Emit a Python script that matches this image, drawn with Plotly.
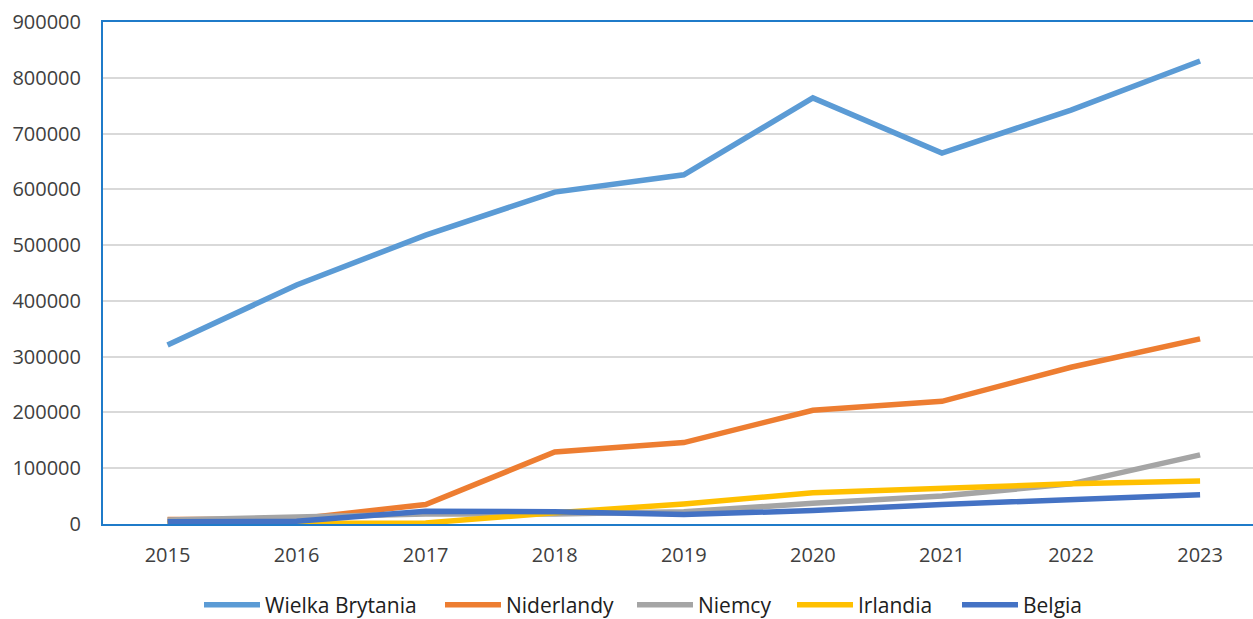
import plotly.graph_objects as go

years = ["2015", "2016", "2017", "2018", "2019", "2020", "2021", "2022", "2023"]
wielka_brytania = [321000, 428500, 518000, 595000, 626000, 764000, 665000, 742000, 830000]
niderlandy = [8000, 9000, 35000, 129000, 146000, 204000, 220000, 281000, 332000]
niemcy = [7000, 13000, 18000, 18000, 22000, 37000, 50000, 72000, 124000]
irlandia = [1000, 1000, 2000, 20000, 36000, 56000, 64000, 72000, 77000]
belgia = [4000, 5000, 23000, 22000, 17000, 24000, 35000, 44000, 52500]

series = [
    ("Wielka Brytania", wielka_brytania, "#5B9BD5"),
    ("Niderlandy", niderlandy, "#ED7D31"),
    ("Niemcy", niemcy, "#A5A5A5"),
    ("Irlandia", irlandia, "#FFC000"),
    ("Belgia", belgia, "#4472C4"),
]
# legend line start positions (pixels) of each entry
legend_px = [207, 448, 640, 800, 965]

PLOT_L, PLOT_W = 103, 1150

fig = go.Figure()
legend_layout = {}
lfont = dict(family="Open Sans, Noto Sans, sans-serif", size=21, color="#202020")
for i, (name, vals, color) in enumerate(series):
    lname = "legend" if i == 0 else f"legend{i+1}"
    fig.add_trace(go.Scatter(x=list(range(len(years))), y=vals, name=name, mode="lines",
                             line=dict(color=color, width=5.5), legend=lname))
    legend_layout[lname] = dict(x=(legend_px[i] - PLOT_L - 8) / PLOT_W, xanchor="left",
                                y=(524 - 605) / 502, yanchor="middle", font=lfont,
                                itemwidth=56, bgcolor="rgba(0,0,0,0)", borderwidth=0)

font = dict(family="Open Sans, Noto Sans, sans-serif", size=20, color="#404040")
fig.update_layout(
    width=1253, height=619,
    margin=dict(l=103, r=0, t=22, b=95, autoexpand=False),
    paper_bgcolor="white", plot_bgcolor="white",
    font=font,
    showlegend=True,
    xaxis=dict(tickmode="array", tickvals=list(range(len(years))), ticktext=years,
               range=[-0.5, 8.41], showgrid=False, showline=True, linecolor="#1F7BC9",
               linewidth=2, mirror=True, ticks="", tickfont=font, zeroline=False,
               automargin=False, ticklabelstandoff=12),
    yaxis=dict(range=[0, 900000], dtick=100000, tickformat="d", showgrid=True,
               gridcolor="#D9D9D9", gridwidth=1.5, showline=True, linecolor="#1F7BC9",
               linewidth=2, ticks="", tickfont=font, zeroline=False, ticklabelstandoff=16,
               automargin=False),
    **legend_layout,
)
fig.write_html("out.html", config={"displayModeBar": False},
               post_script="document.body.style.margin='0';document.body.style.overflow='hidden';")
